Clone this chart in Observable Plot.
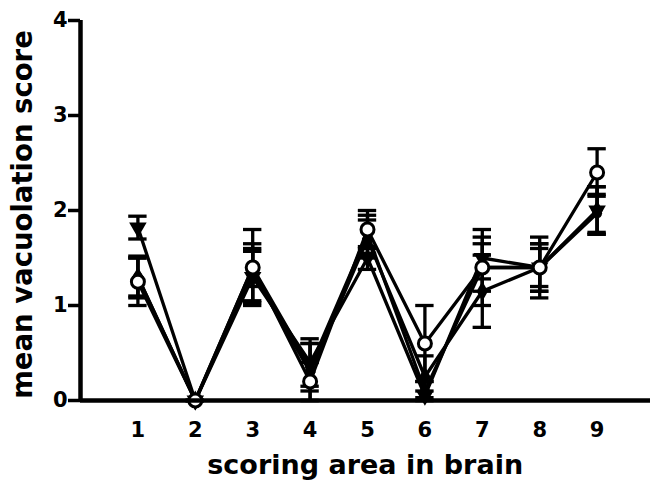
<!DOCTYPE html>
<html>
<head>
<meta charset="utf-8">
<script src="https://cdn.jsdelivr.net/npm/d3@7"></script>
<script src="https://cdn.jsdelivr.net/npm/@observablehq/plot@0.6"></script>
<style>
  html, body { margin: 0; padding: 0; background: #fff; }
  #chart svg { display: block; }
</style>
</head>
<body>
<div id="chart"></div>
<script>
const areas = [1, 2, 3, 4, 5, 6, 7, 8, 9];
const yTicks = [0, 1, 2, 3, 4];

const openCircleMean = [1.25, 0, 1.4, 0.2, 1.8, 0.6, 1.4, 1.4, 2.4];
const openCircleErr  = [0.25, 0, 0.4, 0.2, 0.2, 0.4, 0.4, 0.25, 0.25];

const downTriMean = [1.82, 0, 1.3, 0.4, 1.5, 0.05, 1.5, 1.4, 2.0];
const downTriErr  = [0.12, 0, 0.27, 0.25, 0.12, 0.05, 0.22, 0.32, 0.25];

const diamondMean = [1.3, 0, 1.35, 0.3, 1.7, 0.25, 1.15, 1.4, 2.0];
const diamondErr  = [0.22, 0, 0.3, 0.3, 0.2, 0.22, 0.38, 0.25, 0.25];

const filledCircleMean = [1.3, 0, 1.4, 0.35, 1.75, 0.1, 1.4, 1.4, 1.97];
const filledCircleErr  = [0.2, 0, 0.2, 0.25, 0.2, 0.1, 0.25, 0.2, 0.2];

const seriesDefs = [
  {name: "diamond", mean: diamondMean, err: diamondErr},
  {name: "filledCircle", mean: filledCircleMean, err: filledCircleErr},
  {name: "downTri", mean: downTriMean, err: downTriErr},
  {name: "openCircle", mean: openCircleMean, err: openCircleErr}
];

const rows = seriesDefs.flatMap(s => areas.map((a, i) => ({
  series: s.name, x: a, y: s.mean[i], lo: s.mean[i] - s.err[i], hi: s.mean[i] + s.err[i]
})));
const capW = 0.16;
const ofSeries = n => rows.filter(r => r.series === n);
const font = "DejaVu Sans, Liberation Sans, sans-serif";

const plot = Plot.plot({
  width: 650,
  height: 484,
  marginLeft: 80,
  marginRight: 0,
  marginTop: 20,
  marginBottom: 84,
  x: {domain: [0, 10], range: [80, 654], axis: null},
  y: {domain: [0, 4]},
  style: {fontFamily: font, fontWeight: "bold", color: "#000", overflow: "visible"},
  marks: [
    Plot.line(rows, {x: "x", y: "y", z: "series", stroke: "#000", strokeWidth: 3.3}),
    Plot.ruleX(rows, {x: "x", y1: "lo", y2: "hi", stroke: "#000", strokeWidth: 3.3}),
    Plot.ruleY(rows, {y: "lo", x1: d => d.x - capW, x2: d => d.x + capW, stroke: "#000", strokeWidth: 3.3}),
    Plot.ruleY(rows, {y: "hi", x1: d => d.x - capW, x2: d => d.x + capW, stroke: "#000", strokeWidth: 3.3}),
    Plot.dot(ofSeries("diamond"), {x: "x", y: "y", symbol: "diamond", r: 6, fill: "#000"}),
    Plot.dot(ofSeries("filledCircle"), {x: "x", y: "y", symbol: "circle", r: 5, fill: "#000"}),
    Plot.dot(ofSeries("downTri"), {x: "x", y: "y", symbol: "triangle", r: 6.5, fill: "#000", rotate: 180}),
    Plot.dot(ofSeries("openCircle"), {x: "x", y: "y", symbol: "circle", r: 6.5, fill: "#fff", stroke: "#000", strokeWidth: 3}),
    Plot.ruleX([0], {stroke: "#000", strokeWidth: 4.5, y1: 0, y2: 4}),
    Plot.ruleY([0], {stroke: "#000", strokeWidth: 4.5, x1: 0, x2: 10}),
    Plot.axisY(yTicks, {tickSize: 12, tickPadding: 1, fontSize: 21, strokeWidth: 3.5, tickFormat: "d", label: null}),
    Plot.axisX(areas, {tickSize: 0, tickPadding: 22, fontSize: 21, tickFormat: "d", label: null}),
    Plot.text(["mean vacuolation score"], {frameAnchor: "left", dx: -57, dy: 4, rotate: -90, textAnchor: "middle", lineAnchor: "middle", fontSize: 27.5, fontWeight: "bold", fontFamily: font}),
    Plot.text(["scoring area in brain"], {frameAnchor: "bottom", x: 4.96, dy: 65, lineAnchor: "middle", fontSize: 27, fontWeight: "bold", fontFamily: font})
  ]
});
document.getElementById("chart").appendChild(plot);
</script>
</body>
</html>
